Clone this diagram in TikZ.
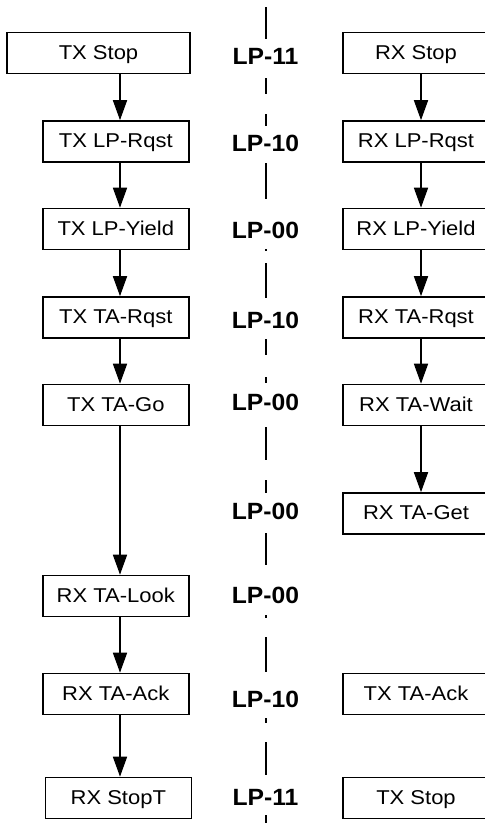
\documentclass[tikz,border=0pt]{standalone}
\usepackage{fontspec}
\setmainfont{Liberation Sans}
\newfontfamily\boxfont[FakeStretch=1.1]{Liberation Sans}
\newfontfamily\lpfont[FakeStretch=1.05]{Liberation Sans}
\usetikzlibrary{arrows.meta}
\begin{document}
\begin{tikzpicture}[x=1pt,y=-1pt,
  stbox/.style={draw, line width=1.6pt, minimum width=146pt, minimum height=41pt,
    inner sep=0pt, text height=15pt, text depth=3pt,
    font=\boxfont\fontsize{20}{24}\selectfont},
  lp/.style={inner sep=0pt, text height=17pt, text depth=0pt,
    font=\lpfont\bfseries\fontsize{23.5}{28}\selectfont},
  arr/.style={line width=1.6pt, -{Triangle[length=20pt,width=14pt]}},
  lane/.style={line width=1.6pt}]
\useasboundingbox (0,0) rectangle (485,823);
\fill[white] (0,0) rectangle (485,823);

% centre lane (broken line)
\foreach \a/\b in {7/39,78/94,114/126,163/199,249/251,263/298,339/355,377/383,
                   427/460,480/493,533/565,615/618,637/672,718/723,742/775,815/823}
  \draw[lane] (266,\a) -- (266,\b);

% left column
\node[stbox, minimum width=183pt] (ltxstop) at (98.5,53) {TX Stop};
\node[stbox] (ltxlprq)   at (115.8,141.5) {TX LP-Rqst};
\node[stbox] (ltxlpy)    at (115.8,229)   {TX LP-Yield};
\node[stbox] (ltxtarq)   at (115.8,317.5) {TX TA-Rqst};
\node[stbox] (ltxtago)   at (115.8,405)   {TX TA-Go};
\node[stbox] (lrxtalook) at (115.8,596)   {RX TA-Look};
\node[stbox] (lrxtaack)  at (115.8,694)   {RX TA-Ack};
\node[stbox] (lrxstopt)  at (118.3,798)   {RX StopT};

% right column
\node[stbox] (rrxstop)   at (416,53)    {RX Stop};
\node[stbox] (rrxlprq)   at (416,141.5) {RX LP-Rqst};
\node[stbox] (rrxlpy)    at (416,229)   {RX LP-Yield};
\node[stbox] (rrxtarq)   at (416,317.5) {RX TA-Rqst};
\node[stbox] (rrxtawait) at (416,405)   {RX TA-Wait};
\node[stbox] (rrxtaget)  at (416,513.5) {RX TA-Get};
\node[stbox] (rtxtaack)  at (416,694)   {TX TA-Ack};
\node[stbox] (rtxstop)   at (416,798)   {TX Stop};

% lane state labels
\node[lp] (l1) at (265.5,56)    {LP-11};
\node[lp] (l2) at (265.5,142.5) {LP-10};
\node[lp] (l3) at (265.5,230)   {LP-00};
\node[lp] (l4) at (265.5,320)   {LP-10};
\node[lp] (l5) at (265.5,402)   {LP-00};
\node[lp] (l6) at (265.5,511)   {LP-00};
\node[lp] (l7) at (265.5,595)   {LP-00};
\node[lp] (l8) at (265.5,699)   {LP-10};
\node[lp] (l9) at (265.5,797)   {LP-11};

% arrow columns
\coordinate (cl) at (120,0);
\coordinate (cr) at (421,0);

\draw[arr] (ltxstop.south -| cl) -- (ltxlprq.north -| cl);
\draw[arr] (ltxlprq.south -| cl) -- (ltxlpy.north -| cl);
\draw[arr] (ltxlpy.south -| cl) -- (ltxtarq.north -| cl);
\draw[arr] (ltxtarq.south -| cl) -- (ltxtago.north -| cl);
\draw[arr] (ltxtago.south -| cl) -- (lrxtalook.north -| cl);
\draw[arr] (lrxtalook.south -| cl) -- (lrxtaack.north -| cl);
\draw[arr] (lrxtaack.south -| cl) -- (lrxstopt.north -| cl);

\draw[arr] (rrxstop.south -| cr) -- (rrxlprq.north -| cr);
\draw[arr] (rrxlprq.south -| cr) -- (rrxlpy.north -| cr);
\draw[arr] (rrxlpy.south -| cr) -- (rrxtarq.north -| cr);
\draw[arr] (rrxtarq.south -| cr) -- (rrxtawait.north -| cr);
\draw[arr] (rrxtawait.south -| cr) -- (rrxtaget.north -| cr);
\end{tikzpicture}
\end{document}
